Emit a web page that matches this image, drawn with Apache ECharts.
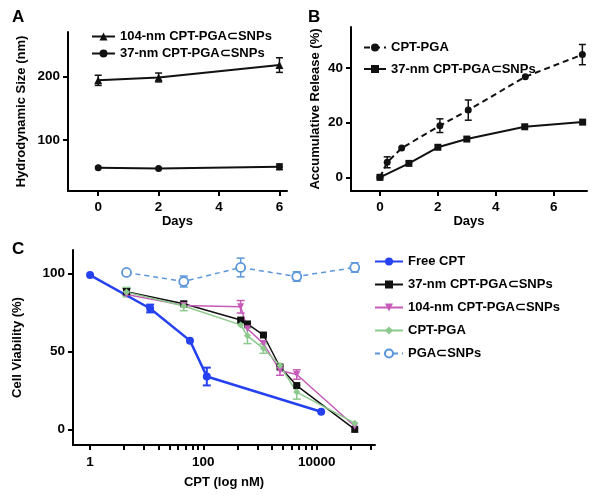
<!DOCTYPE html>
<html>
<head>
<meta charset="utf-8">
<script src="https://cdn.jsdelivr.net/npm/echarts@6/dist/echarts.min.js"></script>
<style>html,body{margin:0;padding:0;background:#fff}#c{width:601px;height:498px}</style>
</head>
<body>
<div id="c"></div>
<script>
// ---------- Panel A: hydrodynamic size ----------
const daysA = [0, 2, 6];
const size104 = [194, 198.5, 218];
const size104Err = [8, 7, 11.5];
const size37 = [56.4, 55.4, 58];
const size37Err = [0, 0, 4.5];
const yTicksA = [100, 200];
const xTicksA = [0, 2, 4, 6];

// ---------- Panel B: accumulative release ----------
const daysPGA = [0, 0.25, 0.75, 2.07, 3.05, 5.02, 6.99];
const releasePGA = [0, 5.5, 10.7, 18.9, 24.6, 36.8, 44.9];
const releasePGAErr = [0, 2, 0, 2.5, 3.7, 0, 3.7];
const daysSNP = [0, 1, 2, 3, 5, 7];
const releaseSNP = [0, 5.1, 11.0, 14.0, 18.5, 20.2];
const yTicksB = [0, 20, 40];
const xTicksB = [0, 2, 4, 6];

// ---------- Panel C: cell viability ----------
const concFree = [1, 11.5, 58, 115, 12000];
const viabFree = [98.9, 77.5, 56.9, 33.9, 11.3];
const viabFreeErr = [0, 2.5, 0, 5.7, 0];

const conc = [4.4, 45, 455, 600, 1150, 2250, 4450, 47000];
const viab37 = [88.3, 80.5, 70.1, 67.6, 60.5, 40, 28.1, 0];
const viab37Err = [2, 0, 0, 0, 0, 0, 0, 0];
const viab104 = [86.5, 79.5, 78.6, 64.5, 55, 37.7, 35.2, 2];
const viab104Err = [0, 0, 4, 0, 0, 3, 3, 0];
const viabPGA = [88, 79.1, 67, 60, 51.8, 40.9, 23.9, 4];
const viabPGAErr = [3, 3, 0, 5, 3, 0, 4.5, 0];

const concSNP = [4.4, 45, 455, 4450, 47000];
const viabSNP = [100.6, 94.8, 103.8, 98, 103.8];
const viabSNPErr = [0, 3.5, 6, 3, 3];

const xLabelsC = [1, 100, 10000];
const xTicksC = [1, 4, 9, 16, 25, 36, 49, 64, 81, 100, 400, 900, 1600, 2500, 3600, 4900, 6400, 8100, 10000, 40000, 90000];
const yTicksC = [0, 50, 100];

// ---------- helpers ----------
const FONT = 'Liberation Sans, Arial, sans-serif';
const C_BLUE = '#2541f0', C_LBLUE = '#5b96da', C_MAG = '#c65bb9', C_GREEN = '#8cc98c', C_BLACK = '#111111';

function pts(xs, ys) { return xs.map((x, i) => [x, ys[i]]); }
function errs(xs, ys, es) {
  const out = [];
  xs.forEach((x, i) => { if (es[i] > 0) out.push([x, ys[i] - es[i], ys[i] + es[i]]); });
  return out;
}
function errSeries(idx, data, color, lw, cap) {
  return {
    type: 'custom', xAxisIndex: idx, yAxisIndex: idx, data: data, silent: true, z: 3,
    renderItem: function (params, api) {
      const x = api.value(0);
      const p1 = api.coord([x, api.value(1)]);
      const p2 = api.coord([x, api.value(2)]);
      const st = { stroke: color, lineWidth: lw };
      return { type: 'group', children: [
        { type: 'line', shape: { x1: p1[0], y1: p1[1], x2: p2[0], y2: p2[1] }, style: st },
        { type: 'line', shape: { x1: p1[0] - cap, y1: p1[1], x2: p1[0] + cap, y2: p1[1] }, style: st },
        { type: 'line', shape: { x1: p2[0] - cap, y1: p2[1], x2: p2[0] + cap, y2: p2[1] }, style: st }
      ]};
    }
  };
}
const axLine = { show: true, onZero: false, lineStyle: { color: '#000', width: 2 } };
const lbl = { color: '#000', fontWeight: 'bold', fontSize: 13, fontFamily: FONT };
const tickLbl = { color: '#000', fontWeight: 'bold', fontSize: 13.5, fontFamily: FONT };
const nameTxt = { color: '#000', fontWeight: 'bold', fontSize: 13, fontFamily: FONT };

function xAx(idx, min, max, ticks, name, gap) {
  return {
    type: 'value', gridIndex: idx, min: min, max: max,
    axisLine: axLine, splitLine: { show: false },
    axisTick: { show: true, length: 5, lineStyle: { width: 2, color: '#000' }, customValues: ticks },
    axisLabel: Object.assign({ margin: 9, customValues: ticks }, tickLbl),
    name: name, nameLocation: 'middle', nameGap: gap, nameTextStyle: nameTxt
  };
}
function yAx(idx, min, max, ticks, name, gap) {
  return {
    type: 'value', gridIndex: idx, min: min, max: max,
    axisLine: axLine, splitLine: { show: false },
    axisTick: { show: true, length: 5, lineStyle: { width: 2, color: '#000' }, customValues: ticks },
    axisLabel: Object.assign({ margin: 8, customValues: ticks }, tickLbl),
    name: name, nameLocation: 'middle', nameGap: gap, nameTextStyle: nameTxt
  };
}
function lineS(idx, name, data, color, sym, size, lw, extra) {
  return Object.assign({
    type: 'line', name: name, xAxisIndex: idx, yAxisIndex: idx, data: data,
    symbol: sym, symbolSize: size, showSymbol: true,
    lineStyle: { color: color, width: lw }, itemStyle: { color: color, borderWidth: 0 }, z: 4
  }, extra || {});
}

const chart = echarts.init(document.getElementById('c'), null, { renderer: 'canvas' });
chart.setOption({
  animation: false,
  backgroundColor: '#fff',
  textStyle: { fontFamily: FONT },
  grid: [
    { left: 68, top: 32, right: 314, bottom: 307 },
    { left: 351, top: 27, right: 14, bottom: 307 },
    { left: 73, top: 250, right: 226, bottom: 53 }
  ],
  xAxis: [
    xAx(0, -1, 6.25, xTicksA, 'Days', 20),
    xAx(1, -1, 7.15, xTicksB, 'Days', 20),
    {
      type: 'log', logBase: 10, gridIndex: 2, min: 0.5, max: 107000,
      axisLine: axLine, splitLine: { show: false }, minorTick: { show: false },
      axisTick: { show: true, length: 5, lineStyle: { width: 2, color: '#000' }, customValues: xTicksC },
      axisLabel: Object.assign({ margin: 10, customValues: xLabelsC, formatter: function (v) { return String(Math.round(v)); } }, tickLbl),
      name: 'CPT (log nM)', nameLocation: 'middle', nameGap: 31, nameTextStyle: nameTxt
    }
  ],
  yAxis: [
    yAx(0, 20, 270, yTicksA, 'Hydrodynamic Size (nm)', 40),
    yAx(1, -5, 55, yTicksB, 'Accumulative Release (%)', 29),
    yAx(2, -10, 115, yTicksC, 'Cell Viability (%)', 49)
  ],
  legend: [
    { left: 86, top: 25, orient: 'vertical', itemWidth: 23, itemHeight: 10, itemGap: 4,
      textStyle: lbl, data: ['104-nm CPT-PGA⊂SNPs', '37-nm CPT-PGA⊂SNPs'] },
    { left: 358, top: 36, orient: 'vertical', itemWidth: 22, itemHeight: 10, itemGap: 8.5,
      textStyle: lbl, data: ['CPT-PGA', '37-nm CPT-PGA⊂SNPs '] },
    { left: 369, top: 250, orient: 'vertical', itemWidth: 28, itemHeight: 10, itemGap: 10,
      textStyle: lbl, data: ['Free CPT', '37-nm CPT-PGA⊂SNPs  ', '104-nm CPT-PGA⊂SNPs  ', 'CPT-PGA ', 'PGA⊂SNPs'] }
  ],
  graphic: [
    { type: 'text', left: 12, top: 9, style: { text: 'A', font: 'bold 17px ' + FONT, fill: '#000' } },
    { type: 'text', left: 308, top: 9, style: { text: 'B', font: 'bold 17px ' + FONT, fill: '#000' } },
    { type: 'text', left: 12, top: 241, style: { text: 'C', font: 'bold 17px ' + FONT, fill: '#000' } }
  ],
  series: [
    // Panel A
    lineS(0, '104-nm CPT-PGA⊂SNPs', pts(daysA, size104), C_BLACK, 'triangle', 8, 2),
    lineS(0, '37-nm CPT-PGA⊂SNPs', pts(daysA, size37), C_BLACK, 'circle', 7, 2),
    errSeries(0, errs(daysA, size104, size104Err), C_BLACK, 1.5, 3.5),
    errSeries(0, errs(daysA, size37, size37Err), C_BLACK, 1.5, 3.5),
    // Panel B
    lineS(1, 'CPT-PGA', pts(daysPGA, releasePGA), C_BLACK, 'circle', 7, 2, { lineStyle: { color: C_BLACK, width: 2, type: [6, 4] } }),
    lineS(1, '37-nm CPT-PGA⊂SNPs ', pts(daysSNP, releaseSNP), C_BLACK, 'rect', 7, 2),
    errSeries(1, errs(daysPGA, releasePGA, releasePGAErr), C_BLACK, 1.5, 3.5),
    // Panel C
    lineS(2, 'Free CPT', pts(concFree, viabFree), C_BLUE, 'circle', 8, 2.5),
    lineS(2, '37-nm CPT-PGA⊂SNPs  ', pts(conc, viab37), C_BLACK, 'rect', 7, 1.5),
    lineS(2, '104-nm CPT-PGA⊂SNPs  ', pts(conc, viab104), C_MAG, 'triangle', 7, 1.5, { symbolRotate: 180 }),
    lineS(2, 'CPT-PGA ', pts(conc, viabPGA), C_GREEN, 'diamond', 7, 1.5),
    lineS(2, 'PGA⊂SNPs', pts(concSNP, viabSNP), C_LBLUE, 'circle', 9, 1.5,
      { lineStyle: { color: C_LBLUE, width: 1.5, type: [5, 4] }, itemStyle: { color: '#ffffff', borderColor: C_LBLUE, borderWidth: 1.8 } }),
    errSeries(2, errs(concFree, viabFree, viabFreeErr), C_BLUE, 2, 4),
    errSeries(2, errs(conc, viab37, viab37Err), C_BLACK, 1.5, 4),
    errSeries(2, errs(conc, viab104, viab104Err), C_MAG, 1.5, 4),
    errSeries(2, errs(conc, viabPGA, viabPGAErr), C_GREEN, 1.5, 4),
    errSeries(2, errs(concSNP, viabSNP, viabSNPErr), C_LBLUE, 1.5, 4)
  ]
});
</script>
</body>
</html>
